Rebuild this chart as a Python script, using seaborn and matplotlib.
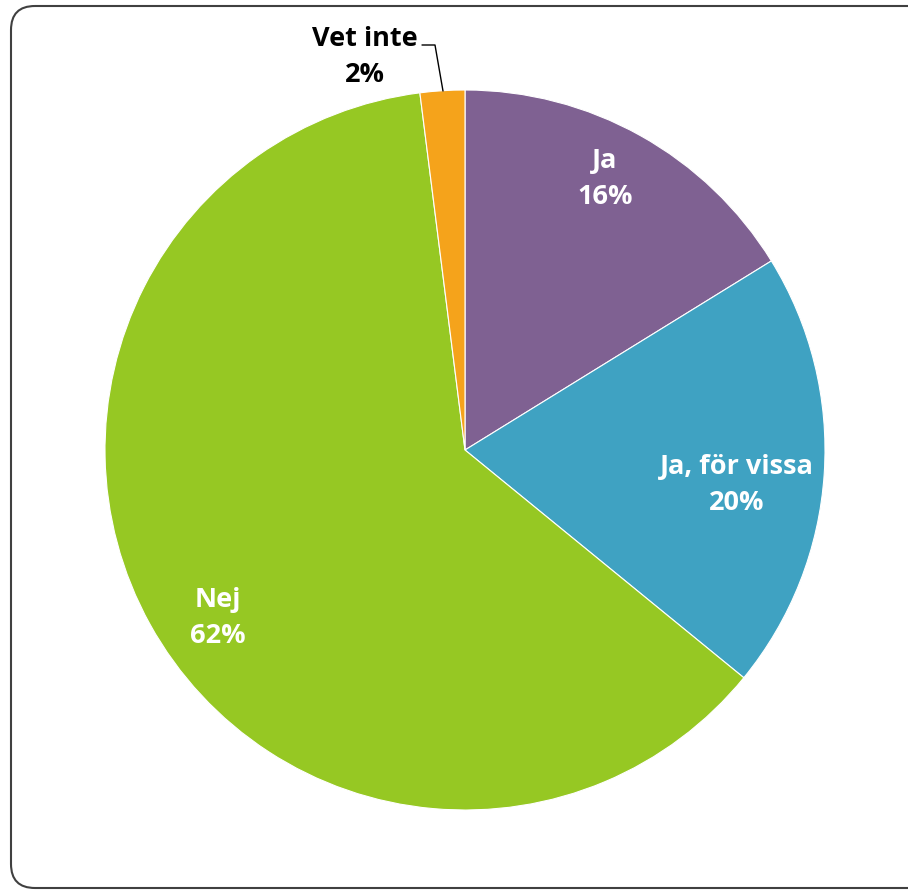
import numpy as np
import pandas as pd
import matplotlib.pyplot as plt
import seaborn as sns
from matplotlib.patches import FancyBboxPatch

sns.set_theme(style="white")
plt.rcParams["font.family"] = ["Open Sans", "DejaVu Sans"]

# data (shown rounded to whole percent)
categories = ["Ja", "Ja, för vissa", "Nej", "Vet inte"]
values = [16.2, 19.7, 62.1, 2.0]
colors = ["#7F6192", "#3FA2C2", "#96C823", "#F5A31B"]

df = pd.DataFrame({"svar": categories, "andel": values, "farg": colors})

fig = plt.figure(figsize=(9.08, 8.92), dpi=100)
ax = fig.add_axes([0, 0, 1, 1])

# pie (y axis inverted, so counterclock=True draws clockwise on screen)
ax.pie(df["andel"], colors=df["farg"], startangle=-90, counterclock=True,
       center=(465, 450), radius=360, frame=True,
       wedgeprops=dict(edgecolor="white", linewidth=0.8))
ax.set_xlim(0, 908)
ax.set_ylim(892, 0)
ax.set_aspect("equal")
ax.axis("off")

# rounded frame
frame = FancyBboxPatch((11, 6), 960, 882, boxstyle="round,pad=0,rounding_size=24",
                       fill=False, edgecolor="#404040", linewidth=1.5, clip_on=True)
ax.add_patch(frame)

# labels
lab_pos = [(605, 179, "white"), (737, 485, "white"), (218, 618, "white"), (365, 57, "black")]
for (x, y, c), name, v in zip(lab_pos, df["svar"], df["andel"]):
    ax.text(x, y, f"{name}\n{round(v)}%", ha="center", va="center", fontsize=19.5,
            fontweight="bold", color=c, linespacing=1.5)

# leader line for Vet inte
ax.plot([422, 435, 443], [45, 45, 91], color="black", linewidth=1)

fig.savefig("out.png", dpi=100)
